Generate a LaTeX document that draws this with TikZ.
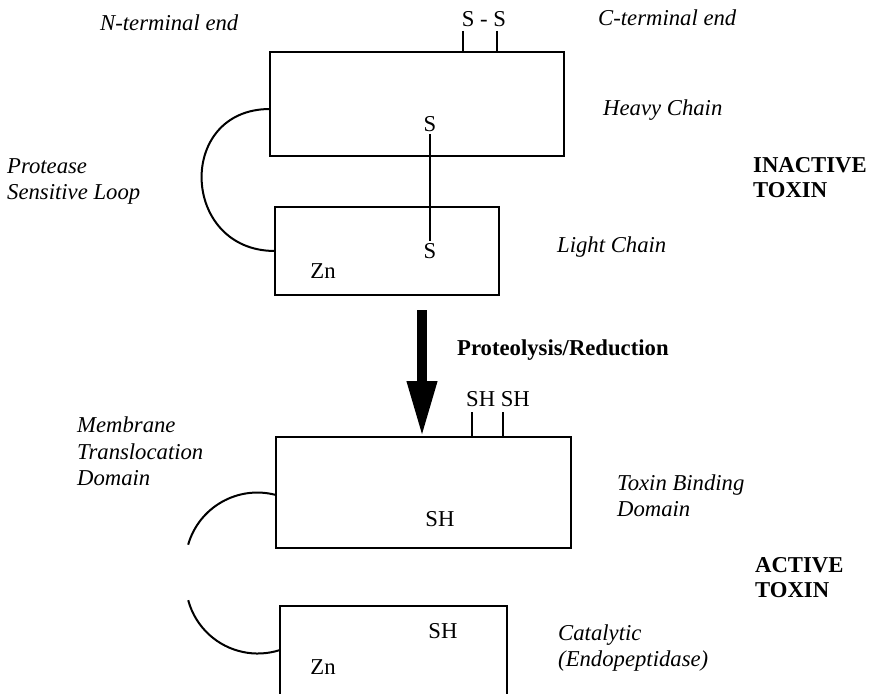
\documentclass[tikz,border=0pt]{standalone}
\usepackage{fontspec}
\setmainfont{Liberation Serif}
\usetikzlibrary{arrows.meta,positioning,calc}

\begin{document}
\begin{tikzpicture}[x=1pt,y=-1pt,
  chain/.style={draw,line width=1.8pt,inner sep=0,outer sep=0},
  lbl/.style={font=\fontsize{22.7}{26.5}\selectfont\itshape,align=left,anchor=west,inner sep=0},
  tag/.style={font=\fontsize{22.7}{25.5}\selectfont\bfseries,align=left,anchor=west,inner sep=0},
  atom/.style={font=\fontsize{22.7}{26.5}\selectfont,inner sep=2pt},
  bond/.style={line width=1.6pt},
  loopline/.style={line width=2pt}]
  \useasboundingbox (0,0) rectangle (869,693);
  \clip (0,0) rectangle (869,693);
  \node[chain,minimum width=294pt,minimum height=104pt] (heavy) at (417,104) {};
  \node[chain,minimum width=224pt,minimum height=88pt] (light) at (387,251) {};
  \node[chain,minimum width=295pt,minimum height=111pt] (tbd) at (423.5,492.5) {};
  \node[chain,minimum width=227pt,minimum height=100pt] (cat) at (393.5,656) {};
  \node[atom] (ss) at (484,19) {S - S};
  \coordinate (ss1) at (463,31);
  \coordinate (ss2) at (497,31);
  \draw[bond] (ss1) -- (ss1 |- heavy.north);
  \draw[bond] (ss2) -- (ss2 |- heavy.north);
  \node[atom] (shi) at (430,124) {S};
  \node[atom] (slo) at (430,251) {S};
  \draw[bond] (shi.south) -- (slo.north);
  \node[atom] (zn1) at (323,271) {Zn};
  \draw[loopline] ([yshift=-5pt]heavy.west) to[out=180,in=180,looseness=1.7] (light.west);
  \coordinate (arrtop) at (422,310);
  \draw[line width=10pt,-{Triangle[length=56pt,width=28pt]}] (arrtop) -- (arrtop |- tbd.north);
  \node[atom] (shsh) at (498,399) {SH SH};
  \coordinate (sh1) at (472,412);
  \coordinate (sh2) at (503,412);
  \draw[bond] (sh1) -- (sh1 |- tbd.north);
  \draw[bond] (sh2) -- (sh2 |- tbd.north);
  \node[atom] (sh3) at (440,519) {SH};
  \node[atom] (sh4) at (443,631) {SH};
  \node[atom] (zn2) at (323,667) {Zn};
  \draw[loopline] ([yshift=-2.5pt]tbd.west) arc[start angle=75,end angle=164,radius=72pt];
  \draw[loopline] ([yshift=6pt]cat.west) arc[start angle=-72,end angle=-165,radius=72pt];
  \node[lbl] (nterm) at (100,23) {N-terminal end};
  \node[lbl] (cterm) at (598,18) {C-terminal end};
  \node[lbl] (heavylbl) at (603,110) {Heavy Chain};
  \node[lbl] (looplbl) at (7,181.5) {Protease\\Sensitive Loop};
  \node[tag] (inactive) at (753,177.5) {INACTIVE\\TOXIN};
  \node[lbl] (lightlbl) at (557,247) {Light Chain};
  \node[tag] (proteo) at (457,350) {Proteolysis/Reduction};
  \node[lbl] (memlbl) at (77,451.5) {Membrane\\Translocation\\Domain};
  \node[lbl] (tbdlbl) at (617,495.5) {Toxin Binding\\Domain};
  \node[tag] (active) at (755,577.5) {ACTIVE\\TOXIN};
  \node[lbl] (catlbl) at (558,648) {Catalytic\\(Endopeptidase)};
\end{tikzpicture}
\end{document}
